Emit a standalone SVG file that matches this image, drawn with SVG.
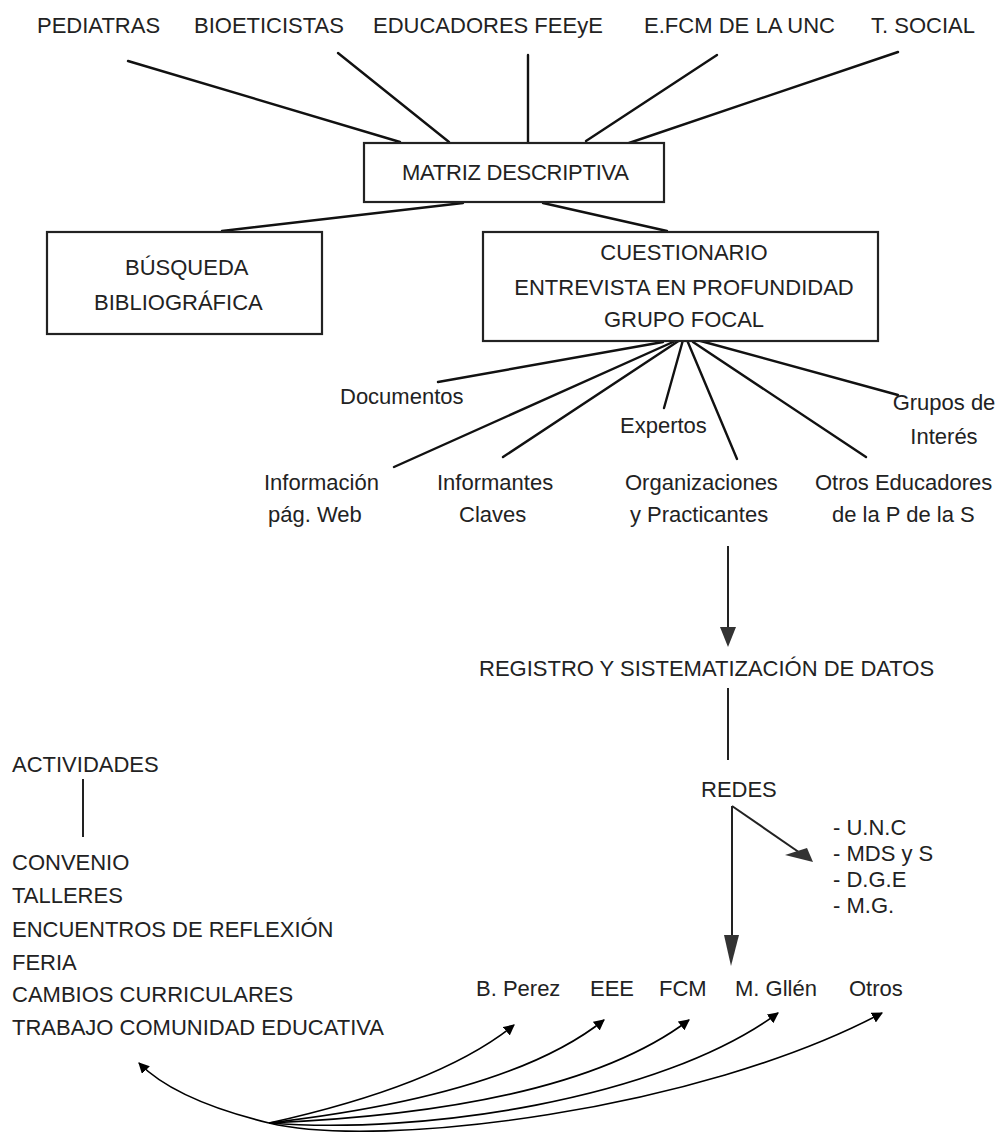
<svg xmlns="http://www.w3.org/2000/svg" width="996" height="1135" viewBox="0 0 996 1135">
<style>
text{font-family:"Liberation Sans",Arial,sans-serif;font-size:22px;fill:#222}
.box{fill:#fff;stroke:#222;stroke-width:2.2}
.ln{stroke:#111;stroke-width:2.4;fill:none;stroke-linecap:round}
.th{stroke:#222;stroke-width:2;fill:none}
.cv{stroke:#000;stroke-width:1.6;fill:none}
.ah{fill:#333}
</style>
<defs>
<marker id="arr" viewBox="0 0 10 10" refX="9" refY="5" markerWidth="11" markerHeight="11" markerUnits="userSpaceOnUse" orient="auto">
<path d="M0,0 L10,5 L0,10 z" fill="#000"/>
</marker>
</defs>
<g id="top-labels">
<text x="37" y="33">PEDIATRAS</text>
<text x="194" y="33">BIOETICISTAS</text>
<text x="373" y="33">EDUCADORES FEEyE</text>
<text x="644" y="33" textLength="191" lengthAdjust="spacing">E.FCM DE LA UNC</text>
<text x="871" y="33">T. SOCIAL</text>
</g>
<g id="connectors">
<line class="ln" x1="128" y1="61" x2="400" y2="142"/>
<line class="ln" x1="338" y1="53" x2="449" y2="142"/>
<line class="ln" x1="528" y1="55" x2="528" y2="142"/>
<line class="ln" x1="717" y1="55" x2="586" y2="141"/>
<line class="ln" x1="898" y1="52" x2="629" y2="143"/>
<line class="ln" x1="463" y1="203" x2="222" y2="231"/>
<line class="ln" x1="543" y1="203" x2="667" y2="231"/>
<line class="ln" x1="663" y1="342" x2="438" y2="382"/>
<line class="ln" x1="673" y1="342" x2="394" y2="467"/>
<line class="ln" x1="680" y1="340" x2="503" y2="457"/>
<line class="ln" x1="683" y1="340" x2="664" y2="408"/>
<line class="ln" x1="687" y1="340" x2="737" y2="459"/>
<line class="ln" x1="693" y1="342" x2="866" y2="457"/>
<line class="ln" x1="697" y1="340" x2="898" y2="395"/>
<line class="th" x1="728" y1="546" x2="728" y2="630"/>
<polygon class="ah" points="720,627 736,627 728,647"/>
<line class="th" x1="728" y1="688" x2="728" y2="760"/>
<line class="th" x1="732" y1="806" x2="732" y2="938"/>
<polygon class="ah" points="724,935 739,935 731,966"/>
<line class="th" x1="732" y1="806" x2="803" y2="855"/>
<polygon class="ah" points="813,862 785,855 807,848"/>
<line class="th" x1="83" y1="779" x2="83" y2="837"/>
<path class="cv" d="M269,1123 Q175,1100 139,1063" marker-end="url(#arr)"/>
<path class="cv" d="M269,1123 Q440,1085 514,1025" marker-end="url(#arr)"/>
<path class="cv" d="M269,1123 Q510,1095 604,1020" marker-end="url(#arr)"/>
<path class="cv" d="M269,1123 Q570,1110 689,1020" marker-end="url(#arr)"/>
<path class="cv" d="M269,1123 C420,1135 660,1100 778,1013" marker-end="url(#arr)"/>
<path class="cv" d="M269,1123 C380,1150 700,1110 882,1013" marker-end="url(#arr)"/>
</g>
<g id="matriz">
<rect class="box" x="364" y="143" width="300" height="59"/>
<text x="402" y="180" textLength="227" lengthAdjust="spacing">MATRIZ DESCRIPTIVA</text>
</g>
<g id="busqueda">
<rect class="box" x="47" y="232" width="275" height="102"/>
<text x="125" y="275">BÚSQUEDA</text>
<text x="94" y="310">BIBLIOGRÁFICA</text>
</g>
<g id="cuestionario">
<rect class="box" x="483" y="232" width="395" height="109"/>
<text x="684" y="260" text-anchor="middle">CUESTIONARIO</text>
<text x="684" y="295" text-anchor="middle">ENTREVISTA EN PROFUNDIDAD</text>
<text x="684" y="327" text-anchor="middle">GRUPO FOCAL</text>
</g>
<g id="fan-labels">
<text x="340" y="404">Documentos</text>
<text x="620" y="433">Expertos</text>
<text x="944" y="410" text-anchor="middle">Grupos de</text>
<text x="944" y="444" text-anchor="middle">Interés</text>
<text x="264" y="490">Información</text>
<text x="268" y="522">pág. Web</text>
<text x="437" y="490">Informantes</text>
<text x="459" y="522">Claves</text>
<text x="625" y="490">Organizaciones</text>
<text x="630" y="522">y Practicantes</text>
<text x="815" y="490">Otros Educadores</text>
<text x="832" y="522">de la P de la S</text>
</g>
<g id="registro">
<text x="479" y="676">REGISTRO Y SISTEMATIZACIÓN DE DATOS</text>
</g>
<g id="redes">
<text x="701" y="797">REDES</text>
</g>
<g id="redes-list">
<text x="833" y="835">- U.N.C</text>
<text x="833" y="861">- MDS y S</text>
<text x="833" y="887">- D.G.E</text>
<text x="833" y="913">- M.G.</text>
</g>
<g id="nombres">
<text x="476" y="996">B. Perez</text>
<text x="590" y="996">EEE</text>
<text x="659" y="996">FCM</text>
<text x="735" y="996">M. Gllén</text>
<text x="849" y="996">Otros</text>
</g>
<g id="actividades">
<text x="12" y="772">ACTIVIDADES</text>
<text x="12" y="870">CONVENIO</text>
<text x="12" y="903">TALLERES</text>
<text x="12" y="937">ENCUENTROS DE REFLEXIÓN</text>
<text x="12" y="970">FERIA</text>
<text x="12" y="1002">CAMBIOS CURRICULARES</text>
<text x="12" y="1035">TRABAJO COMUNIDAD EDUCATIVA</text>
</g>
</svg>
